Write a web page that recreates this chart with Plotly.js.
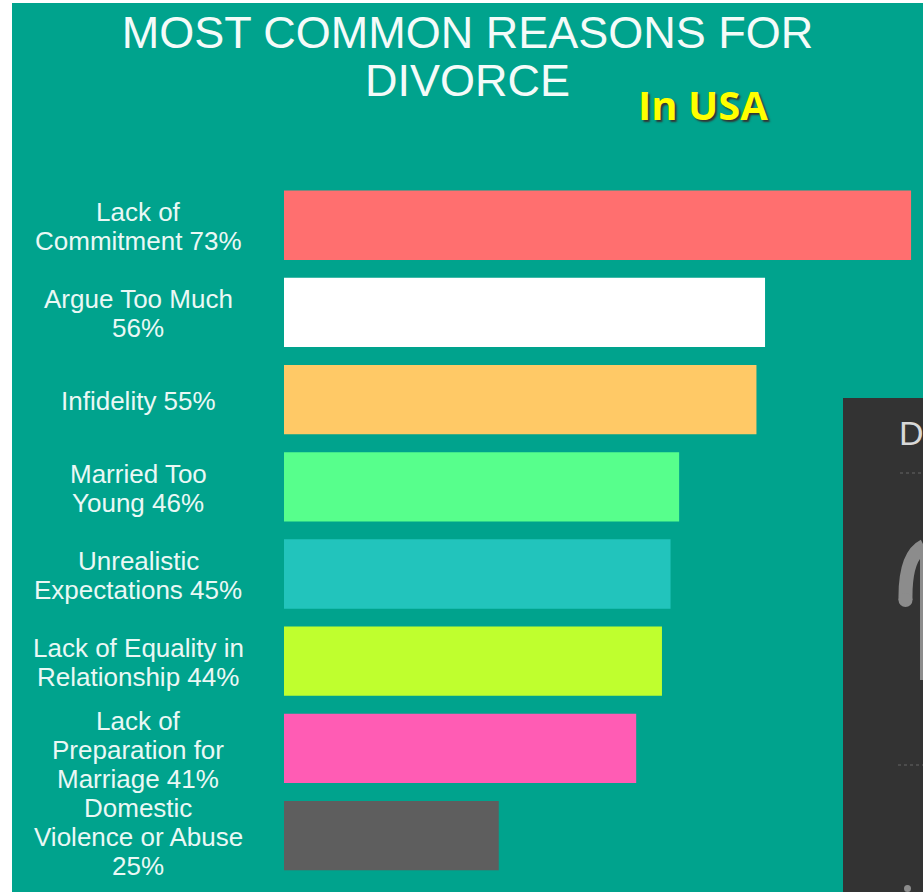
<!DOCTYPE html>
<html>
<head>
<meta charset="utf-8">
<script src="https://cdn.plot.ly/plotly-3.0.1.min.js"></script>
<style>html,body{margin:0;padding:0;background:#fff;overflow:hidden}#chart{width:923px;height:892px}</style>
</head>
<body>
<div id="chart"></div>
<script>
const categories = ["Lack of<br>Commitment 73%","Argue Too Much<br>56%","Infidelity 55%","Married Too<br>Young 46%","Unrealistic<br>Expectations 45%","Lack of Equality in<br>Relationship 44%","Lack of<br>Preparation for<br>Marriage 41%","Domestic<br>Violence or Abuse<br>25%"];
const values = [73,56,55,46,45,44,41,25];
const barColors = ["#FF6F6F","#FFFFFF","#FFC966","#57FF8C","#22C4BC","#BFFF2E","#FF5CB4","#5E5E5E"];
const titleLines = ["MOST COMMON REASONS FOR","DIVORCE"];
const subtitle = "In USA";

const W = 923, H = 892, L = 284;
const teal = "#00A38D";
const px = x => (x - L) / (W - L);
const py = y => 1 - y / H;
const rect = (x0, y0, x1, y1, color, layer) => ({type:"rect", xref:"paper", yref:"paper", x0:px(x0), x1:px(x1), y0:py(y0), y1:py(y1), fillcolor:color, line:{width:0}, layer:layer||"below"});
const curve = (d, color, width) => ({type:"path", xref:"paper", yref:"paper", path:d, line:{color:color, width:width}, layer:"above"});
const P = (x, y) => px(x) + " " + py(y);

const annotations = [];
const text = (t, x, y, size, opts) => annotations.push(Object.assign({text:t, xref:"paper", yref:"paper", x:px(x), y:py(y), showarrow:false, xanchor:"center", yanchor:"middle", font:{family:"Liberation Sans, Arial, sans-serif", size:size, color:"#F4FBF9"}}, opts||{}));

categories.forEach(cat => {
  const lines = cat.split("<br>");
  lines.forEach((line, k) => annotations.push({
    text: line, xref:"paper", yref:"y", x:px(138), y:cat, yshift:((lines.length-1)/2 - k)*29 - 1.5,
    showarrow:false, xanchor:"center", yanchor:"middle",
    font:{family:"Liberation Sans, Arial, sans-serif", size:26, color:"#EAF8F5"}
  }));
});
text(titleLines[1], 467, 81, 45);
text(subtitle, 703, 105, 40, {font:{family:"Open Sans, Lato, sans-serif", size:40, color:"#FFFF00", weight:700, shadow:"2px 2px 2px #333"}});
text("D", 911, 433, 34, {font:{family:"Liberation Sans, sans-serif", size:34, color:"#D8D8D8"}});

const shapes = [
  rect(12, 3, 923, 892, teal),
  rect(843, 398, 923, 892, "#333333"),
  {type:"line", xref:"paper", yref:"paper", x0:px(900), x1:px(923), y0:py(473), y1:py(473), line:{color:"#666666", width:1, dash:"dot"}},
  {type:"line", xref:"paper", yref:"paper", x0:px(898), x1:px(923), y0:py(765), y1:py(765), line:{color:"#666666", width:1, dash:"dot"}},
  curve("M " + P(905.5,600) + " C " + P(905,572) + " " + P(910,553) + " " + P(924,546), "#8C8C8C", 14),
  {type:"circle", xref:"paper", yref:"paper", x0:px(898.5), x1:px(912.5), y0:py(593), y1:py(607), fillcolor:"#8C8C8C", line:{width:0}},
  rect(920, 545, 923, 680, "#8C8C8C", "above"),
  {type:"circle", xref:"paper", yref:"paper", x0:px(904), x1:px(911), y0:py(885), y1:py(892), fillcolor:"#8C8C8C", line:{width:0}}
];

const data = [{
  type:"bar", orientation:"h", y:categories, x:values,
  marker:{color:barColors, line:{width:0}}, hoverinfo:"skip"
}];

const layout = {
  width:W, height:H, margin:{l:L, r:0, t:0, b:0, pad:0},
  paper_bgcolor:"#FFFFFF", plot_bgcolor:"rgba(0,0,0,0)", showlegend:false, bargap:0.205,
  title:{text:titleLines[0], xref:"paper", yref:"container", x:px(467.5), xanchor:"center", y:1-32/H, yanchor:"middle",
         font:{family:"Liberation Sans, Arial, sans-serif", size:45, color:"#F4FBF9"}},
  xaxis:{visible:false, range:[0,(W-L)/8.59], fixedrange:true},
  yaxis:{visible:false, type:"category", categoryorder:"array", categoryarray:categories, range:[7.647,-2.583], fixedrange:true},
  shapes:shapes, annotations:annotations
};
Plotly.newPlot("chart", data, layout, {displayModeBar:false, staticPlot:true});
</script>
</body>
</html>
